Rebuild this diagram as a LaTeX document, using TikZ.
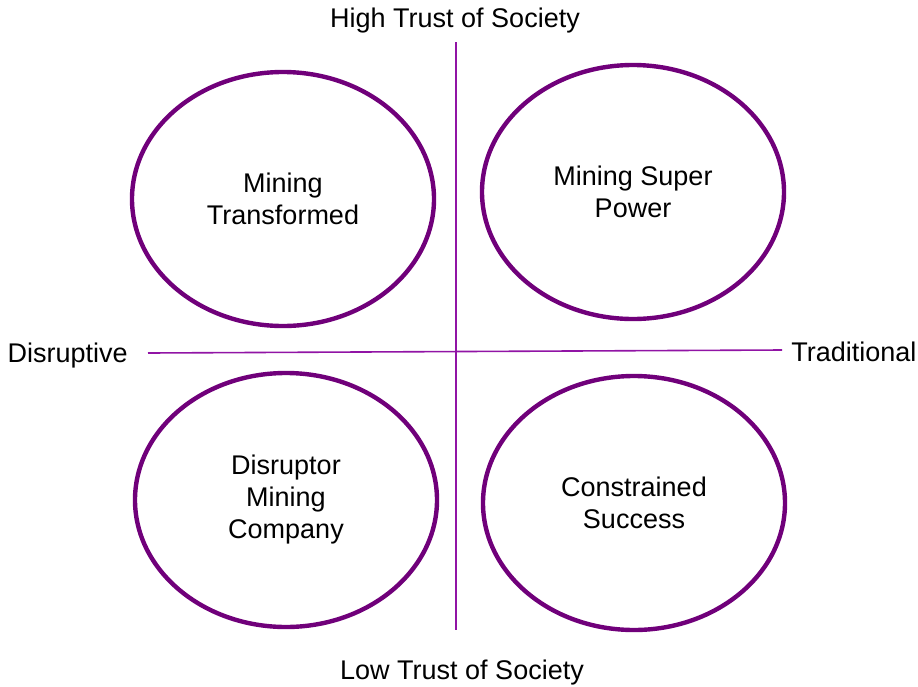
\documentclass[tikz,border=0pt]{standalone}
\usepackage{fontspec}
\setmainfont{Liberation Sans}
\usepackage{tikz}
\usetikzlibrary{shapes.geometric}
\usetikzlibrary{positioning}

\definecolor{ringpurple}{RGB}{112,0,122}
\definecolor{axispurple}{RGB}{145,20,165}

\tikzset{
  scenario/.style={ellipse, draw=ringpurple, line width=4.4pt, minimum width=302pt, minimum height=254pt, align=center, font=\fontsize{27}{32}\selectfont},
  axislabel/.style={font=\fontsize{27}{30}\selectfont},
  axisline/.style={draw=axispurple, line width=1.6pt}
}

\begin{document}
\begin{tikzpicture}[x=1pt, y=-1pt]
\useasboundingbox (0,0) rectangle (918,686);

% axes
\coordinate (top) at (456,42);
\coordinate (bottom) at (456,630);
\coordinate (left) at (148,353);
\coordinate (right) at (782,350);
\draw[axisline] (top) -- (bottom);
\draw[axisline] (left) -- (right);

\node[axislabel] (high) at (455,21) {High Trust of Society};
\node[axislabel] (low) at (462,673) {Low Trust of Society};
\node[axislabel, anchor=west] (disruptive) at (4,356) {Disruptive};
\node[axislabel, anchor=east] (traditional) at (920,352) {Traditional};

% quadrants
\node[scenario] (transformed) at (283,199) {Mining\\Transformed};
\node[scenario] (superpower) at (633,192) {Mining Super\\Power};
\node[scenario] (disruptor) at (286,500) {Disruptor\\Mining\\Company};
\node[scenario] (constrained) at (634,503) {Constrained\\Success};
\end{tikzpicture}
\end{document}
